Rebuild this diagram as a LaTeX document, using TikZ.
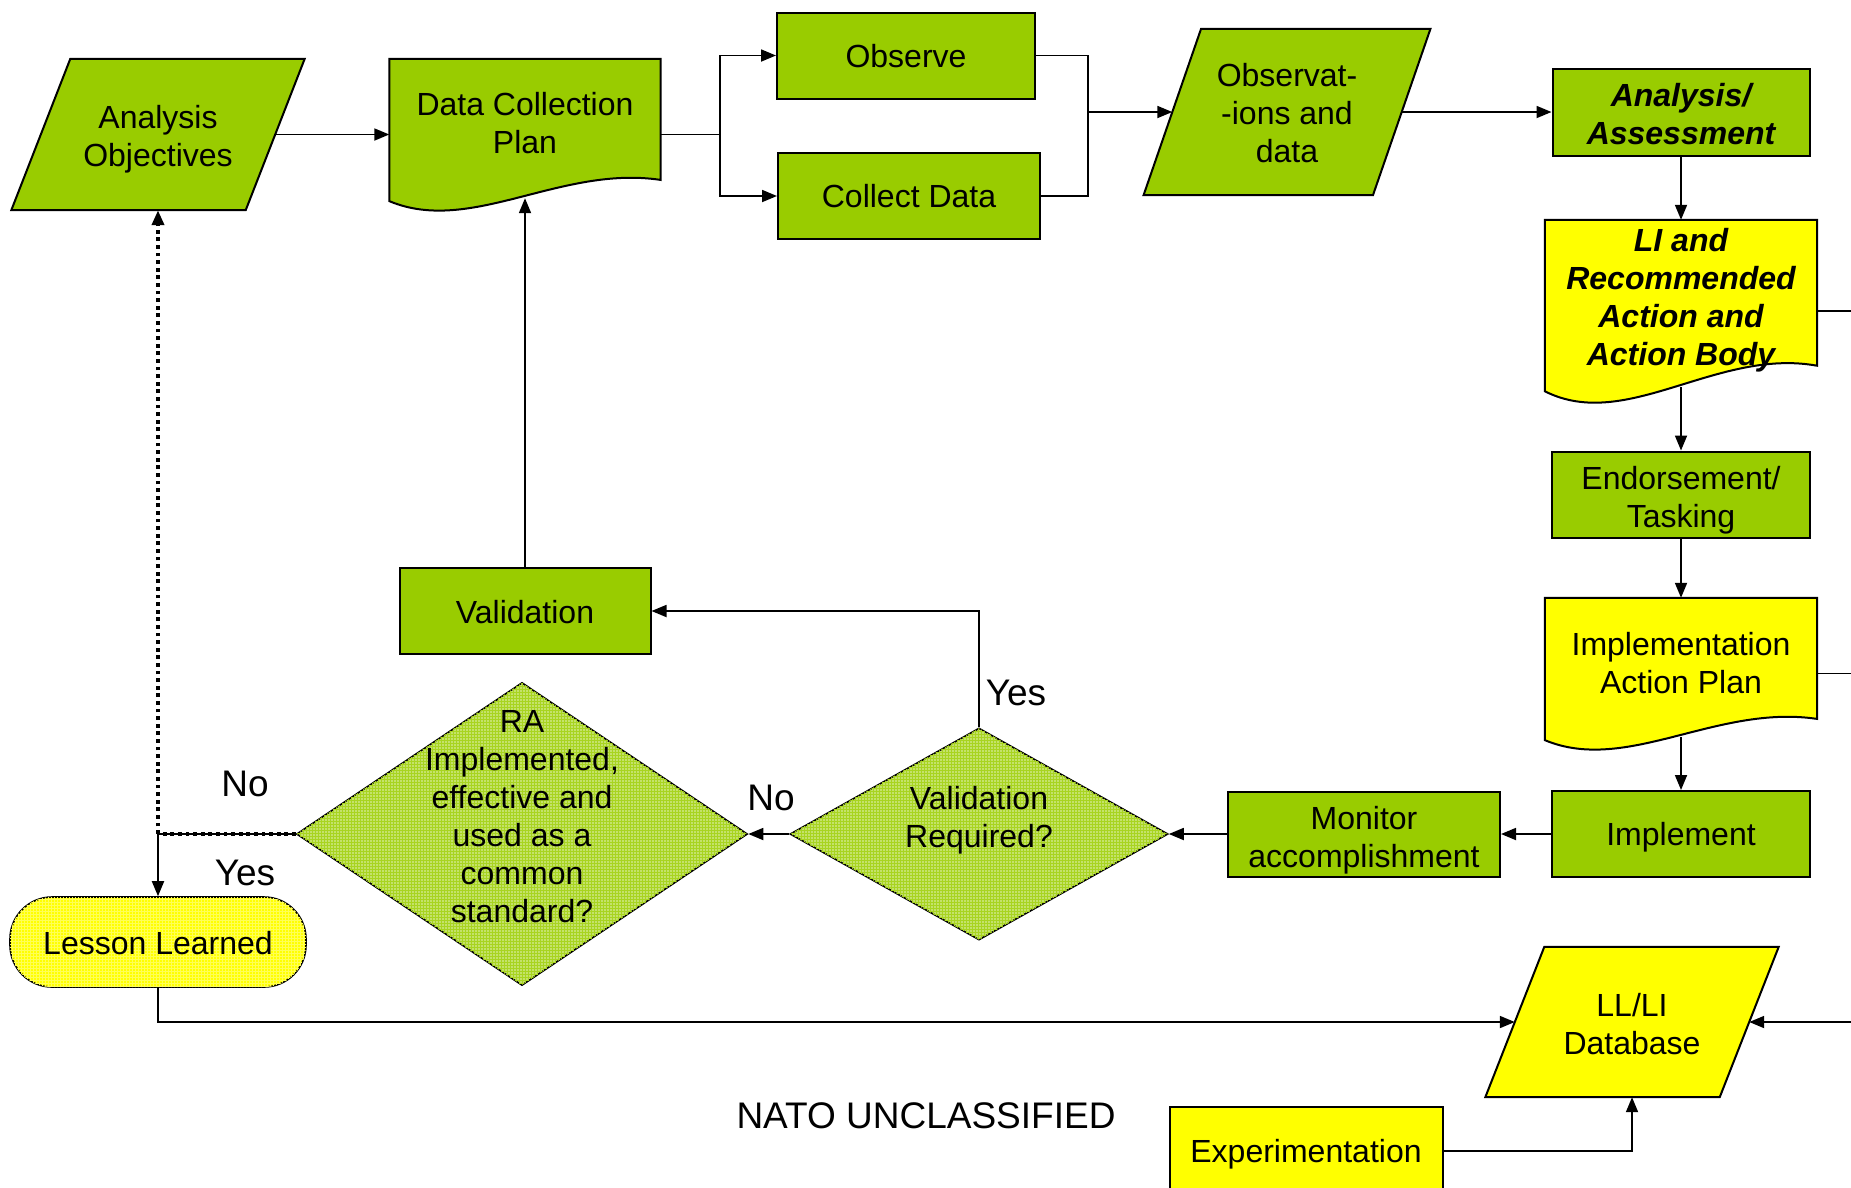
\documentclass[tikz,border=0pt]{standalone}
\usepackage{fontspec}
\setmainfont{Liberation Sans}
\usetikzlibrary{arrows.meta,calc,patterns,shapes.geometric}

\definecolor{leaf}{HTML}{99CC00}
\definecolor{leafpale}{HTML}{C4E26A}
\definecolor{leafgrid}{HTML}{A8D420}
\definecolor{lemon}{HTML}{FFFF00}
\definecolor{lemonpale}{HTML}{FFFF55}

% document shape with a wavy bottom edge, drawn around an (empty) node
\newcommand\docshape[2]{%
  \draw[line width=2pt, fill=#2] let \p1=(#1.north west), \p2=(#1.south east) in
    (\p1) -- (\x2,\y1) -- (\x2,{\y2+0.2*(\y1-\y2)})
    .. controls ({\x1+0.63*(\x2-\x1)},{\y2+0.3*(\y1-\y2)})
       and ({\x1+0.30*(\x2-\x1)},{\y2-0.166*(\y1-\y2)}) ..
    (\x1,{\y2+0.06*(\y1-\y2)}) -- cycle;}

% slanted data shape drawn around an (empty) node
\newcommand\parashape[3]{%
  \draw[line width=2pt, fill=#3]
    ([xshift=#2]#1.north west) -- ([xshift=#2]#1.north east) --
    ([xshift=-#2]#1.south east) -- ([xshift=-#2]#1.south west) -- cycle;}

\begin{document}
\begin{tikzpicture}[x=1pt,y=-1pt,
  every node/.style={font=\fontsize{32}{38}\selectfont, align=center, inner sep=0pt},
  frame/.style 2 args={minimum width=#1, minimum height=#2},
  greenbox/.style={draw, line width=2pt, fill=leaf},
  yellowbox/.style={draw, line width=2pt, fill=lemon},
  hidden/.style={draw=none, fill=none},
  decision/.style={diamond, draw, line width=1.6pt, fill=leafpale,
    postaction={pattern=grid, pattern color=leafgrid}},
  arr/.style={line width=1.8pt, -{Triangle[length=15pt,width=12pt]}},
  link/.style={line width=1.8pt},
  dotline/.style={line width=4.2pt, dash pattern=on 3.8pt off 3.8pt},
  emph/.style={font=\fontsize{32}{38}\selectfont\bfseries\itshape},
  caption/.style={font=\fontsize{37}{44}\selectfont}
]
\useasboundingbox (0,0) rectangle (1851,1187);
\clip (0,0) rectangle (1851,1187);

% ---------- top row ----------
\node[hidden, frame={234pt}{151pt}] (ao) at (158,134.5) {};
\parashape{ao}{29.5pt}{leaf}
\node (aot) at ([yshift=-5pt]ao.center) {Analysis\\Objectives};

\node[hidden, frame={271pt}{151pt}] (dcp) at (525,134.5) {};
\docshape{dcp}{leaf}
\node (dcpt) at ([yshift=11pt]dcp.center) {Data Collection\\Plan};

\node[greenbox, frame={258pt}{86pt}] (obs) at (906,55.5) {};
\node (obst) at ([yshift=-1pt]obs.center) {Observe};
\node[greenbox, frame={262pt}{86pt}] (col) at (909,196) {Collect Data};

\node[hidden, frame={229pt}{166pt}] (od) at (1287,112) {};
\parashape{od}{28.75pt}{leaf}
\node (odt) at ([yshift=-1pt]od.center) {Observat-\\-ions and\\data};

\node[greenbox, frame={257pt}{87pt}] (aa) at (1681,112) {};
\node[emph] (aat) at ([yshift=-2.5pt]aa.center) {Analysis/\\Assessment};

% ---------- right column ----------
\node[hidden, frame={272pt}{182pt}] (li) at (1681,311) {};
\docshape{li}{lemon}
\node[emph] (lit) at ([yshift=11pt]li.center) {LI and\\Recommended\\Action and\\Action Body};

\node[greenbox, frame={258pt}{86pt}] (end) at (1681,494.5) {};
\node (endt) at ([yshift=-6pt]end.center) {Endorsement/\\Tasking};

\node[hidden, frame={272pt}{151pt}] (iap) at (1681,673.5) {};
\docshape{iap}{lemon}
\node (iapt) at ([yshift=10pt]iap.center) {Implementation\\Action Plan};

\node[greenbox, frame={258pt}{86pt}] (imp) at (1681,834) {};
\node (impt) at ([yshift=-3.5pt]imp.center) {Implement};

% ---------- middle row ----------
\node[greenbox, frame={272pt}{85pt}] (mon) at (1364,834) {};
\node (mont) at ([yshift=-6pt]mon.center) {Monitor\\accomplishment};

\node[decision, frame={378pt}{212pt}] (vr) at (979,834) {};
\node (vrt) at ([yshift=13.5pt]vr.center) {Validation\\Required?};

\node[greenbox, frame={251pt}{86pt}] (val) at (525,611) {};
\node (valt) at ([yshift=-1pt]val.center) {Validation};

\node[decision, frame={451pt}{303pt}] (ra) at (522,834) {};
\node (rat) at ([yshift=17pt]ra.center) {RA\\Implemented,\\effective and\\used as a\\common\\standard?};

\node[draw, line width=1.6pt, fill=lemon, rounded corners=42pt,
      postaction={pattern=grid, pattern color=lemonpale},
      frame={296pt}{90pt}] (ll) at (158,942) {};
\node (llt) at ([yshift=-1pt]ll.center) {Lesson Learned};

% ---------- bottom row ----------
\node[hidden, frame={234pt}{150pt}] (db) at (1632,1022) {};
\parashape{db}{29.5pt}{lemon}
\node (dbt) at ([yshift=-2.5pt]db.center) {LL/LI\\Database};

\node[yellowbox, frame={273pt}{88pt}] (exp) at (1306,1151) {};
\node (expt) at ([yshift=-3.5pt]exp.center) {Experimentation};

\node[caption] (nato) at (926,1116) {NATO UNCLASSIFIED};

% ---------- connectors ----------
\coordinate (rim) at (1851,0);
\coordinate (fork) at (720,134.5);
\coordinate (merge) at (1088,112);
\coordinate (jn) at (ao.south |- ra.west);

\draw[arr] (ao.east) -- (dcp.west);
\draw[link] (dcp.east) -- (fork);
\draw[arr] (fork) |- (obs.west);
\draw[arr] (fork) |- (col.west);
\draw[link] (obs.east) -| (merge);
\draw[link] (col.east) -| (merge);
\draw[arr] (merge) -- (od.west);
\draw[arr] (od.east) -- (aa.west);
\draw[arr] (aa.south) -- (li.north);
\draw[link] (li.east) -- (li.east -| rim);
\draw[arr] ([yshift=15pt]li.south) -- (end.north);
\draw[arr] (end.south) -- (iap.north);
\draw[link] (iap.east) -- (iap.east -| rim);
\draw[arr] ([yshift=12pt]iap.south) -- (imp.north);
\draw[arr] (imp.west) -- (mon.east);
\draw[arr] (mon.west) -- (vr.east);
\draw[arr] (vr.west) -- (ra.east);
\draw[arr] (vr.north) |- (val.east);
\draw[arr] (val.north) -- ([yshift=12pt]dcp.south);
\draw[arr] (ra.west) -- (jn) -- (ll.north);
\draw[dotline] (ra.west) -- (jn);
\draw[dotline, -{Triangle[length=15pt,width=12pt]}] (jn) -- (ao.south);
\draw[arr] (ll.south) |- (db.west);
\draw[arr] (db.east -| rim) -- (db.east);
\draw[arr] (exp.east) -| (db.south);

% ---------- branch labels ----------
\node[caption] (yes1) at (1016,693) {Yes};
\node[caption] (no1) at (771,798) {No};
\node[caption] (no2) at (245,784) {No};
\node[caption] (yes2) at (245,873) {Yes};
\end{tikzpicture}
\end{document}
